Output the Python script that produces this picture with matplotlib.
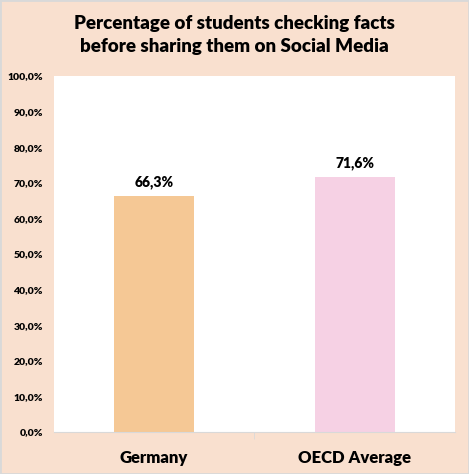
import matplotlib.pyplot as plt
from matplotlib.ticker import FuncFormatter

categories = ["Germany", "OECD Average"]
values = [66.3, 71.6]
bar_colors = ["#F5C895", "#F6D1E4"]

plt.rcParams['font.family'] = ['Lato', 'DejaVu Sans']
plt.rcParams['hatch.color'] = "#F7E6D6"
plt.rcParams['hatch.linewidth'] = 0.6

fig = plt.figure(figsize=(4.69, 4.74), dpi=100, facecolor="#F9E0CF")
ax = fig.add_axes([0.115, 0.0886, 0.855, 0.751])
ax.set_facecolor("white")
ax.add_patch(plt.Rectangle((0, 0), 1, 1, transform=ax.transAxes, facecolor="white",
                           hatch="..", edgecolor="none", zorder=0))

x = range(len(categories))
bars = ax.bar(x, values, width=0.4, color=bar_colors, zorder=2)
for b, v in zip(bars, values):
    ax.text(b.get_x() + b.get_width() / 2, v + 2, f"{v:.1f}%".replace(".", ","),
            ha="center", va="bottom", fontsize=10, fontweight="heavy")

ax.set_xlim(-0.5, 1.5)
ax.set_ylim(0, 100)
ax.set_yticks(range(0, 101, 10))
ax.yaxis.set_major_formatter(FuncFormatter(lambda v, p: f"{v:.1f}%".replace(".", ",")))
ax.set_xticks(list(x))
ax.set_xticklabels(categories, fontsize=12, fontweight="heavy")
for lab in ax.get_yticklabels():
    lab.set_fontsize(7.5)
    lab.set_fontweight("heavy")
ax.tick_params(axis="y", length=0, pad=8)
ax.tick_params(axis="x", length=0, pad=13)
ax.set_xticks([0.5], minor=True)
ax.tick_params(axis="x", which="minor", length=5, color="#D9D9D9", direction="out")
for s in ["top", "right", "left"]:
    ax.spines[s].set_visible(False)
ax.spines["bottom"].set_color("#D9D9D9")

fig.text(0.5, 0.926, "Percentage of students checking facts\nbefore sharing them on Social Media",
         ha="center", va="center", fontsize=13.5, fontweight="heavy", linespacing=1.4)

border = plt.Rectangle((0, 0), 1, 1, transform=fig.transFigure, fill=False,
                       edgecolor="#D9D9D9", linewidth=2)
fig.patches.append(border)

fig.savefig("out.png", dpi=100, facecolor=fig.get_facecolor())
